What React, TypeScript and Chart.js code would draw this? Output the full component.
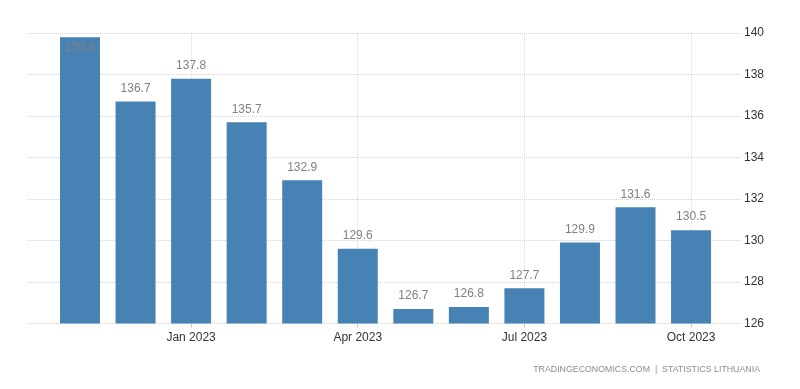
import React, { useEffect, useRef } from "react";
import { Chart, registerables } from "chart.js";

Chart.register(...registerables);

const categories = ["Nov 2022", "Dec 2022", "Jan 2023", "Feb 2023", "Mar 2023", "Apr 2023", "May 2023", "Jun 2023", "Jul 2023", "Aug 2023", "Sep 2023", "Oct 2023"];
const values = [139.8, 136.7, 137.8, 135.7, 132.9, 129.6, 126.7, 126.8, 127.7, 129.9, 131.6, 130.5];
const xTickIndices = [2, 5, 8, 11];
const yTicks = [126, 128, 130, 132, 134, 136, 138, 140];
const sourceText = "TRADINGECONOMICS.COM  |  STATISTICS LITHUANIA";

const FONT = "'Liberation Sans', Arial, sans-serif";

const valueLabels = {
  id: "valueLabels",
  afterDatasetsDraw(chart: any) {
    const ctx = chart.ctx;
    const meta = chart.getDatasetMeta(0);
    ctx.save();
    ctx.font = `12px ${FONT}`;
    ctx.fillStyle = "#808080";
    ctx.textAlign = "center";
    ctx.textBaseline = "middle";
    meta.data.forEach((bar: any, i: number) => {
      let y = bar.y - 13;
      if (y < chart.chartArea.top) y = bar.y + 11;
      ctx.fillText(values[i].toFixed(1), bar.x, y);
    });
    ctx.restore();
  },
};

const sourcePlugin = {
  id: "sourceText",
  afterDraw(chart: any) {
    const ctx = chart.ctx;
    ctx.save();
    ctx.font = `8.8px ${FONT}`;
    ctx.fillStyle = "#8c8c8c";
    ctx.textAlign = "right";
    ctx.textBaseline = "middle";
    ctx.fillText(sourceText, 760, 370);
    ctx.restore();
  },
};

export default function App() {
  const ref = useRef<HTMLCanvasElement>(null);
  useEffect(() => {
    if (!ref.current) return;
    const chart = new Chart(ref.current, {
      type: "bar",
      data: {
        datasets: [
          {
            data: values.map((v, i) => ({ x: i, y: v })),
            backgroundColor: "#4682B4",
            borderWidth: 0,
            barPercentage: 0.72,
            categoryPercentage: 1,
          },
        ],
      },
      options: {
        responsive: false,
        animation: false,
        layout: { padding: { left: 28, top: 33, right: 0, bottom: 0 } },
        plugins: { legend: { display: false }, tooltip: { enabled: false } },
        scales: {
          x: {
            type: "linear",
            offset: false,
            min: -0.936,
            max: 11.917,
            afterBuildTicks(scale: any) {
              scale.ticks = xTickIndices.map((v) => ({ value: v }));
            },
            afterFit(scale: any) {
              scale.height = 389 - 323.5;
            },
            ticks: {
              autoSkip: false,
              maxRotation: 0,
              padding: 3,
              color: "#333333",
              font: { family: FONT, size: 12 },
              callback: (v: any) => categories[v as number] ?? "",
            },
            grid: {
              offset: false,
              color: "#dcdcdc",
              drawTicks: true,
              tickLength: 4,
              tickColor: "#c8c8c8",
            },
            border: { display: false, dash: [1, 1] },
          },
          y: {
            position: "right",
            min: 126,
            max: 140,
            afterBuildTicks(scale: any) {
              scale.ticks = yTicks.map((v) => ({ value: v }));
            },
            afterFit(scale: any) {
              scale.width = 800 - 742;
            },
            ticks: {
              padding: 2,
              color: "#333333",
              font: { family: FONT, size: 12 },
            },
            grid: { color: "#d2d2d2", drawTicks: false },
            border: { display: false, dash: [1, 1] },
          },
        },
      },
      plugins: [valueLabels, sourcePlugin],
    } as any);
    return () => chart.destroy();
  }, []);
  return (
    <div style={{ position: "absolute", left: 0, top: 0, width: 800, height: 389, background: "#fff" }}>
      <canvas ref={ref} width={800} height={389} />
    </div>
  );
}
